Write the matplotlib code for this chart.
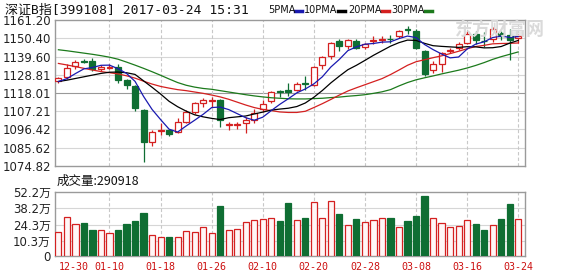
import matplotlib
matplotlib.use("Agg")
import matplotlib.pyplot as plt
from matplotlib.patches import Rectangle
from matplotlib.lines import Line2D

plt.rcParams['font.family'] = ['DejaVu Sans', 'Noto Sans CJK SC']

# trading days shown (55 bars)
dates = ["12-30",
         "01-03", "01-04", "01-05", "01-06", "01-09", "01-10", "01-11", "01-12", "01-13",
         "01-16", "01-17", "01-18", "01-19", "01-20", "01-23", "01-24", "01-25", "01-26",
         "02-03", "02-06", "02-07", "02-08", "02-09", "02-10", "02-13", "02-14", "02-15",
         "02-16", "02-17", "02-20", "02-21", "02-22", "02-23", "02-24", "02-27", "02-28",
         "03-01", "03-02", "03-03", "03-06", "03-07", "03-08", "03-09", "03-10", "03-13",
         "03-14", "03-15", "03-16", "03-17", "03-20", "03-21", "03-22", "03-23", "03-24"]

opens = [1125.0, 1127.3, 1133.7, 1137.0, 1136.8, 1132.5, 1133.0, 1133.3, 1125.5, 1121.9,
         1108.0, 1089.1, 1095.5, 1096.0, 1095.1, 1101.1, 1106.7, 1112.0, 1113.3, 1113.6,
         1098.8, 1099.0, 1100.1, 1102.1, 1108.6, 1113.4, 1119.0, 1120.0, 1120.0, 1124.0,
         1122.9, 1134.4, 1139.8, 1148.8, 1145.8, 1148.8, 1145.4, 1148.6, 1149.4, 1150.2,
         1151.7, 1155.6, 1154.8, 1142.8, 1131.9, 1135.3, 1142.8, 1144.8, 1147.8, 1153.2,
         1149.0, 1149.8, 1153.8, 1152.2, 1150.4]
highs = [1127.7, 1134.9, 1137.8, 1138.3, 1138.8, 1134.5, 1135.0, 1134.9, 1126.3, 1122.9,
         1108.5, 1096.1, 1100.1, 1097.0, 1103.1, 1108.0, 1112.6, 1115.0, 1115.9, 1114.4,
         1100.7, 1101.0, 1104.0, 1108.4, 1114.0, 1119.4, 1120.0, 1123.9, 1124.3, 1128.3,
         1133.9, 1139.8, 1148.2, 1149.8, 1150.2, 1149.8, 1147.8, 1151.7, 1152.0, 1152.3,
         1155.3, 1157.7, 1155.7, 1143.2, 1136.8, 1142.4, 1144.8, 1148.4, 1154.4, 1154.8,
         1154.0, 1157.1, 1154.7, 1155.7, 1152.8]
lows = [1123.9, 1126.3, 1132.3, 1135.6, 1131.3, 1131.0, 1132.2, 1124.0, 1120.5, 1107.4,
        1077.2, 1086.7, 1093.1, 1092.3, 1094.1, 1100.1, 1105.6, 1110.0, 1110.0, 1097.7,
        1096.1, 1096.5, 1094.1, 1100.1, 1107.0, 1112.0, 1115.4, 1116.0, 1119.0, 1120.0,
        1122.3, 1132.5, 1138.3, 1142.8, 1143.8, 1144.2, 1143.8, 1147.2, 1147.8, 1147.8,
        1150.8, 1152.8, 1143.8, 1127.9, 1129.9, 1130.5, 1141.8, 1143.2, 1147.2, 1146.8,
        1145.5, 1148.4, 1149.2, 1137.8, 1147.8]
closes = [1126.9, 1132.9, 1136.5, 1136.6, 1132.5, 1133.3, 1133.6, 1125.9, 1122.5, 1109.4,
          1088.8, 1094.7, 1096.3, 1094.0, 1100.7, 1106.7, 1112.0, 1113.8, 1113.9, 1102.1,
          1099.4, 1099.6, 1102.1, 1106.1, 1111.4, 1118.6, 1118.4, 1118.6, 1123.4, 1123.2,
          1133.5, 1139.2, 1147.6, 1145.8, 1149.2, 1144.8, 1147.2, 1149.5, 1150.0, 1149.8,
          1154.4, 1155.0, 1144.8, 1129.3, 1134.9, 1141.4, 1143.5, 1147.2, 1153.2, 1149.2,
          1148.5, 1155.7, 1151.7, 1149.2, 1151.8]

# moving average lines as they appear on the chart
ma5 = [1124.8, 1126.5, 1129.5, 1132.3, 1133.1, 1134.4, 1134.5, 1132.4, 1129.6, 1124.9,
       1116.0, 1108.3, 1102.3, 1096.6, 1094.9, 1098.5, 1101.9, 1105.4, 1109.4, 1109.7,
       1108.2, 1105.8, 1103.4, 1101.9, 1103.7, 1107.6, 1111.3, 1114.6, 1118.1, 1120.4,
       1123.4, 1127.6, 1133.4, 1137.9, 1143.1, 1145.3, 1146.9, 1147.3, 1148.1, 1148.3,
       1150.2, 1151.7, 1150.8, 1146.7, 1143.7, 1141.1, 1138.8, 1139.3, 1144.0, 1146.9,
       1148.3, 1150.8, 1151.7, 1150.9, 1151.4]
ma10 = [1124.8, 1125.6, 1126.6, 1127.6, 1128.6, 1129.6, 1130.3, 1130.4, 1130.0, 1129.0,
        1125.2, 1121.4, 1117.4, 1113.1, 1109.9, 1107.3, 1105.1, 1103.9, 1103.0, 1102.3,
        1103.4, 1103.9, 1104.4, 1105.6, 1106.7, 1107.9, 1108.5, 1109.0, 1110.0, 1112.1,
        1115.5, 1119.5, 1124.0, 1128.0, 1131.8, 1134.4, 1137.3, 1140.3, 1143.0, 1145.7,
        1147.8, 1149.3, 1149.1, 1147.4, 1146.0, 1145.6, 1145.3, 1145.0, 1145.4, 1145.3,
        1144.7, 1144.8, 1145.5, 1147.5, 1149.1]
ma20 = [1135.5, 1134.6, 1133.6, 1132.6, 1131.6, 1130.7, 1130.0, 1129.3, 1128.2, 1126.8,
        1125.0, 1123.3, 1121.9, 1120.9, 1120.0, 1119.4, 1118.6, 1117.8, 1116.8, 1115.7,
        1114.3, 1112.6, 1110.9, 1109.4, 1108.3, 1107.6, 1106.8, 1106.5, 1106.5, 1107.2,
        1109.4, 1111.7, 1114.2, 1116.8, 1119.2, 1121.1, 1122.9, 1124.7, 1126.5, 1128.9,
        1131.6, 1134.4, 1136.5, 1137.7, 1138.9, 1140.0, 1141.3, 1142.7, 1144.2, 1145.5,
        1146.2, 1147.1, 1147.3, 1147.4, 1147.6]
ma30 = [1143.6, 1143.0, 1142.3, 1141.6, 1140.9, 1140.1, 1139.2, 1138.0, 1136.3, 1134.5,
        1132.6, 1130.6, 1128.5, 1126.3, 1124.2, 1122.6, 1121.5, 1120.7, 1120.2, 1119.4,
        1118.6, 1117.8, 1117.0, 1116.3, 1115.7, 1115.2, 1114.9, 1114.6, 1114.5, 1114.5,
        1114.7, 1114.9, 1115.3, 1115.6, 1116.1, 1116.5, 1117.0, 1117.8, 1118.7, 1120.0,
        1122.2, 1124.2, 1125.8, 1127.0, 1128.1, 1129.3, 1130.4, 1131.5, 1132.8, 1134.3,
        1136.0, 1137.9, 1139.5, 1140.9, 1142.3]

# volume in 万
volumes = [17.7, 30.9, 24.5, 25.3, 19.6, 19.6, 16.8, 19.6, 24.7, 27.3,
           34.1, 15.1, 13.7, 13.7, 13.7, 18.8, 17.9, 21.9, 16.8, 40.0,
           19.6, 20.5, 26.2, 28.1, 29.0, 29.6, 27.6, 42.9, 28.1, 29.6,
           43.4, 30.4, 44.3, 33.2, 23.9, 29.0, 26.4, 28.1, 29.6, 29.6,
           22.5, 27.3, 31.5, 48.5, 29.6, 25.3, 22.5, 23.0, 28.1, 24.7,
           19.6, 23.9, 29.0, 41.7, 29.09]

price_ticks = [1074.82, 1085.62, 1096.42, 1107.21, 1118.01, 1128.81, 1139.60, 1150.40, 1161.20]
vol_ticks = [10.3, 24.3, 38.2, 52.2]
last_volume = 290918

RED = '#d42020'
GREEN = '#0f6e33'
FRAME = '#9a9a9a'
GRID = '#d6d6d6'

fig = plt.figure(figsize=(5.78, 2.76), dpi=100)
ax = fig.add_axes([55/578, 1 - 166/276, 470/578, 146/276])
axv = fig.add_axes([55/578, 1 - 256/276, 470/578, 64/276])

n = len(dates)
idx = list(range(n))
w = 0.7
xlim = (-0.4, 54.8)

# price panel
for i in idx:
    o, h, l, c = opens[i], highs[i], lows[i], closes[i]
    up = c >= o
    col = RED if up else GREEN
    ax.vlines(i, l, h, color=col, lw=0.9, zorder=2)
    body = max(abs(c - o), 0.15)
    ax.add_patch(Rectangle((i - w/2, min(o, c)), w, body,
                           facecolor='white' if up else GREEN,
                           edgecolor=col, lw=0.9, zorder=3))

ax.plot(idx, ma30, color='#1c7a1c', lw=0.9, zorder=4)
ax.plot(idx, ma20, color='#d42020', lw=0.9, zorder=4)
ax.plot(idx, ma10, color='black', lw=0.9, zorder=4)
ax.plot(idx, ma5, color='#1a1ab0', lw=0.9, zorder=4)

ax.set_xlim(*xlim)
ax.set_ylim(price_ticks[0], price_ticks[-1])
ax.set_yticks(price_ticks)
ax.set_yticklabels(['%.2f' % t for t in price_ticks], fontsize=8.5, color='#222222')
for t in price_ticks[1:-1]:
    ax.axhline(t, color='#999999' if t == price_ticks[4] else GRID, lw=0.8, zorder=0)
ax.set_xticks([])

# volume panel
vol_floor = -2.5
vcols = [RED if closes[i] >= opens[i] else GREEN for i in idx]
axv.bar(idx, [v - vol_floor for v in volumes], bottom=vol_floor, width=0.72,
        facecolor=['#fff6f6' if c == RED else GREEN for c in vcols],
        edgecolor=vcols, lw=0.9, zorder=3)
axv.set_xlim(*xlim)
axv.set_ylim(vol_floor, vol_ticks[-1])
axv.set_yticks([vol_floor] + vol_ticks)
axv.set_yticklabels(['0'] + ['%.1f万' % t for t in vol_ticks], fontsize=8.5, color='#222222')
for t in vol_ticks[:-1]:
    axv.axhline(t, color=GRID, lw=0.8, zorder=0)

tick_pos = idx[::6]
axv.set_xticks(tick_pos)
axv.set_xticklabels(dates[::6], fontsize=7.2, color='#cc1010', family='DejaVu Sans Mono')
axv.get_xticklabels()[0].set_horizontalalignment('left')

for a in (ax, axv):
    for p in tick_pos[1:]:
        a.axvline(p, color='#c8c8c8', lw=0.8, ls=(0, (3, 2)), zorder=0)
    for s in a.spines.values():
        s.set_color(FRAME)
        s.set_linewidth(1.0)
    a.tick_params(length=0, pad=3)
axv.tick_params(axis='x', pad=4)

# header texts
fig.text(5/578, 1 - 10/276, '深证B指[399108] 2017-03-24 15:31', fontsize=9.4,
         family=['DejaVu Sans Mono', 'Noto Sans CJK SC'], va='center', color='#111111')
legend = [('5PMA', 268, 295, '#1a1ab0'), ('10PMA', 304, 338, 'black'),
          ('20PMA', 348, 382, '#d42020'), ('30PMA', 391, 425, '#1c7a1c')]
for name, tx, lx, col in legend:
    fig.text(tx/578, 1 - 10/276, name, fontsize=7, va='center', color='#111111')
    fig.add_artist(Line2D([lx/578, (lx + 7)/578], [1 - 10.5/276, 1 - 10.5/276],
                          color=col, lw=2.5))

fig.text(57/578, 1 - 181/276, '成交量:%d' % last_volume, fontsize=9,
         family=['Noto Sans CJK SC'], va='center', color='#111111')

# watermark
fig.text(455/578, 1 - 29/276, '东方财富网', fontsize=13, fontweight='bold',
         family=['Noto Sans CJK SC'], va='center', color='#dadada', zorder=0)

fig.savefig('out.png', dpi=100)
